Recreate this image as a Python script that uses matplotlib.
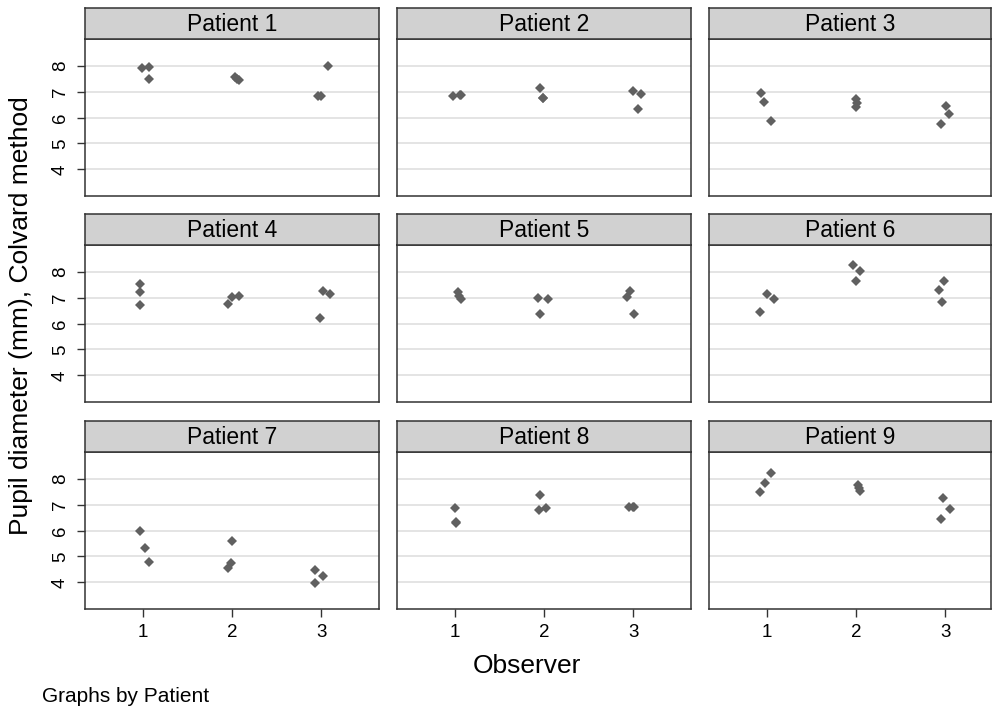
import matplotlib
matplotlib.use("Agg")
import matplotlib.pyplot as plt

plt.rcParams['font.family'] = ['Liberation Sans', 'DejaVu Sans']

# values, 3 readings per observer, per patient
patients = ["Patient 1", "Patient 2", "Patient 3",
            "Patient 4", "Patient 5", "Patient 6",
            "Patient 7", "Patient 8", "Patient 9"]
observer = [1, 1, 1, 2, 2, 2, 3, 3, 3]

pupil = [
    [7.92, 7.95, 7.50, 7.57, 7.50, 7.43, 6.83, 6.83, 7.98],
    [6.84, 6.85, 6.85, 7.15, 6.75, 6.75, 7.03, 6.90, 6.33],
    [6.94, 6.58, 5.86, 6.70, 6.55, 6.40, 6.45, 6.13, 5.75],
    [7.53, 7.23, 6.72, 6.77, 7.03, 7.06, 7.24, 7.12, 6.22],
    [7.22, 7.05, 6.93, 6.97, 6.95, 6.36, 7.27, 7.04, 6.37],
    [6.46, 7.15, 6.96, 8.27, 8.03, 7.64, 7.64, 7.31, 6.82],
    [5.97, 5.32, 4.77, 5.58, 4.56, 4.74, 4.49, 4.23, 3.97],
    [6.87, 6.29, 6.31, 7.36, 6.81, 6.87, 6.90, 6.90, 6.90],
    [7.47, 7.83, 8.23, 7.77, 7.65, 7.53, 7.25, 6.83, 6.43],
]

# horizontal jitter of each point around its observer
jitter = [
    [-0.01, 0.07, 0.07, 0.03, 0.06, 0.08, -0.03, 0.00, 0.08],
    [-0.02, 0.06, 0.07, -0.05, -0.01, -0.01, 0.00, 0.09, 0.05],
    [-0.07, -0.03, 0.05, 0.00, 0.01, 0.00, 0.01, 0.04, -0.05],
    [-0.03, -0.03, -0.03, -0.05, 0.00, 0.08, 0.02, 0.10, -0.01],
    [0.03, 0.05, 0.07, -0.07, 0.04, -0.05, -0.03, -0.07, 0.01],
    [-0.075, 0.00, 0.08, -0.03, 0.04, 0.00, -0.01, -0.07, -0.04],
    [-0.035, 0.02, 0.07, 0.00, -0.05, -0.01, -0.07, 0.02, -0.07],
    [0.00, 0.01, 0.01, -0.05, -0.06, 0.02, -0.05, 0.01, 0.00],
    [-0.08, -0.02, 0.05, 0.02, 0.03, 0.05, -0.02, 0.06, -0.05],
]

y_ticks = [4, 5, 6, 7, 8]
x_ticks = [1, 2, 3]

W, H = 992, 709
fig = plt.figure(figsize=(W / 100, H / 100), dpi=100)
fig.patch.set_facecolor('white')

col_x = [(85, 379), (397, 691), (709, 991)]
row_y = [(39, 196), (245, 402), (452, 609)]
strip_h = 31
x_lo = 0.35
x_per_px = 3.30 / 294
edge = '#333333'
mcol = '#606060'


def fbox(x0, x1, ytop, ybot):
    return [x0 / W, 1 - ybot / H, (x1 - x0) / W, (ybot - ytop) / H]


for i, name in enumerate(patients):
    r, c = divmod(i, 3)
    x0, x1 = col_x[c]
    yt, yb = row_y[r]
    ax = fig.add_axes(fbox(x0, x1, yt, yb))
    xs = [o + j for o, j in zip(observer, jitter[i])]
    ax.plot(xs, pupil[i], 'D', color=mcol, markersize=5.2,
            markeredgewidth=0, zorder=3)
    ax.set_xlim(x_lo, x_lo + (x1 - x0) * x_per_px)
    ax.set_ylim(2.97, 9.03)
    ax.set_yticks(y_ticks)
    ax.set_xticks(x_ticks)
    ax.grid(axis='y', color='#e2e2e2', linewidth=1.3, zorder=0)
    ax.set_axisbelow(True)
    for s in ax.spines.values():
        s.set_color(edge)
        s.set_linewidth(1.1)
    ax.tick_params(axis='both', direction='out', length=5.5, width=1.0,
                   color=edge, labelsize=13.5, labelcolor='black')
    ax.tick_params(axis='x', pad=5)
    ax.tick_params(axis='y', pad=6)
    if c == 0:
        for lab in ax.get_yticklabels():
            lab.set_rotation(90)
            lab.set_va('center')
    else:
        ax.tick_params(axis='y', left=False, labelleft=False)
    if r != 2:
        ax.tick_params(axis='x', bottom=False, labelbottom=False)

    st = fig.add_axes(fbox(x0, x1, yt - strip_h, yt))
    st.set_facecolor('#d1d1d1')
    st.set_xticks([])
    st.set_yticks([])
    for s in st.spines.values():
        s.set_color(edge)
        s.set_linewidth(1.1)
    st.text(0.5, 0.47, name, transform=st.transAxes, ha='center',
            va='center', fontsize=16.5)

fig.text(21 / W, 1 - 316 / H, 'Pupil diameter (mm), Colvard method',
         rotation=90, ha='center', va='center', fontsize=19)
fig.text(527 / W, 1 - 666 / H, 'Observer', ha='center', va='center',
         fontsize=19)
fig.text(42 / W, 1 - 697 / H, 'Graphs by Patient', ha='left', va='center',
         fontsize=15)

fig.savefig('out.png', dpi=100)
